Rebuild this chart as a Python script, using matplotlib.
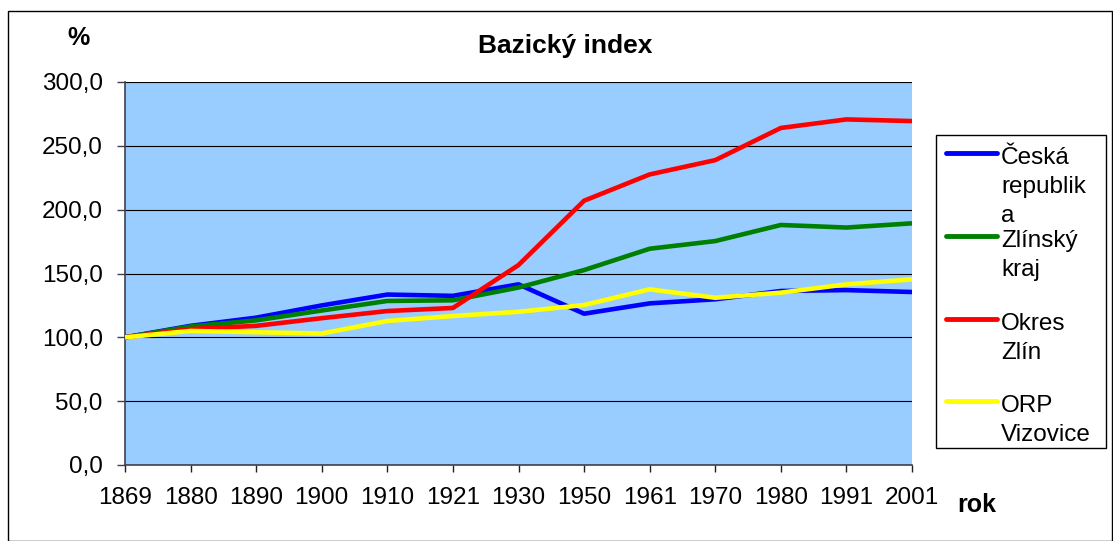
import matplotlib.pyplot as plt
from matplotlib.lines import Line2D
from matplotlib.patches import Rectangle
from matplotlib.ticker import FuncFormatter

plt.rcParams['font.family'] = ['Liberation Sans', 'DejaVu Sans']

roky = ["1869", "1880", "1890", "1900", "1910", "1921", "1930",
        "1950", "1961", "1970", "1980", "1991", "2001"]

ceska_republika = [100, 109, 115.4, 125, 133.5, 132.5, 141.5, 118.5, 126.6, 129.8, 136.3, 137, 135.5]
zlinsky_kraj = [100, 108.5, 113.3, 121, 128.5, 129, 139, 152.7, 169.4, 175.4, 188, 186, 189.3]
okres_zlin = [100, 106.5, 109, 115, 120.6, 123, 156.6, 207, 227.6, 238.8, 264, 270.7, 269.4]
orp_vizovice = [100, 105, 104, 103, 112.8, 116.7, 120, 125.3, 137.6, 131, 135, 141.5, 145.4]

nazvy = ["Česká\nrepublik\na", "Zlínský\nkraj", "Okres\nZlín", "ORP\nVizovice"]
serie = [ceska_republika, zlinsky_kraj, okres_zlin, orp_vizovice]
barvy = ["#0000FF", "#008000", "#FF0000", "#FFFF00"]

W, H = 1113, 541
fig = plt.figure(figsize=(W / 100, H / 100), dpi=100)

# plot area in pixels: x 125..912, y 82..465
ax = fig.add_axes([125 / W, 1 - 465 / H, 787 / W, 383 / H])
ax.set_facecolor("#99CCFF")

x = list(range(len(roky)))
for hodnoty, barva in zip(serie, barvy):
    ax.plot(x, hodnoty, color=barva, lw=3.3, solid_capstyle="butt", zorder=3)

ax.set_xlim(0, len(roky) - 1)
ax.set_ylim(0, 300)
ax.set_yticks(range(0, 301, 50))
ax.yaxis.set_major_formatter(FuncFormatter(lambda v, p: f"{v:.1f}".replace(".", ",")))
ax.set_xticks(x)
ax.set_xticklabels(roky)
ax.grid(axis="y", color="black", lw=0.8, zorder=1)
ax.set_axisbelow(True)

for s in ["top", "right"]:
    ax.spines[s].set_visible(False)
for s in ["left", "bottom"]:
    ax.spines[s].set_color("#404050")
    ax.spines[s].set_linewidth(1.2)
ax.tick_params(axis="y", length=6, width=1, pad=10, labelsize=17.5, color="#404050")
ax.tick_params(axis="x", length=5, width=1, pad=11, labelsize=17.5, color="#202020")

def fy(py):
    return 1 - py / H

fig.text(565 / W, fy(53), "Bazický index", ha="center", va="baseline",
         fontsize=19, fontweight="bold")
fig.text(78 / W, fy(45), "%", ha="center", va="baseline", fontsize=18, fontweight="bold")
fig.text(977 / W, fy(512), "rok", ha="center", va="baseline", fontsize=18, fontweight="bold")

# legend drawn by hand to mimic the fixed-height entries
fig.add_artist(Rectangle((936 / W, fy(448)), 170 / W, 313 / H, transform=fig.transFigure,
                         fill=False, edgecolor="black", lw=1))
handle_y = [153, 236, 319, 401]
for nazev, barva, hy in zip(nazvy, barvy, handle_y):
    fig.add_artist(Line2D([946 / W, 997 / W], [fy(hy), fy(hy)], transform=fig.transFigure,
                          color=barva, lw=3.5, solid_capstyle="round"))
    for i, radek in enumerate(nazev.split("\n")):
        fig.text(1001 / W, fy(hy + 11.5 + 28.7 * i), radek, ha="left", va="baseline",
                 fontsize=17.5)

# outer chart border
fig.add_artist(Rectangle((8 / W, 0.5 / H), (W - 9.5) / W, fy(11) - 0.5 / H,
                         transform=fig.transFigure, fill=False, edgecolor="black", lw=1))

fig.savefig("out.png", dpi=100)
